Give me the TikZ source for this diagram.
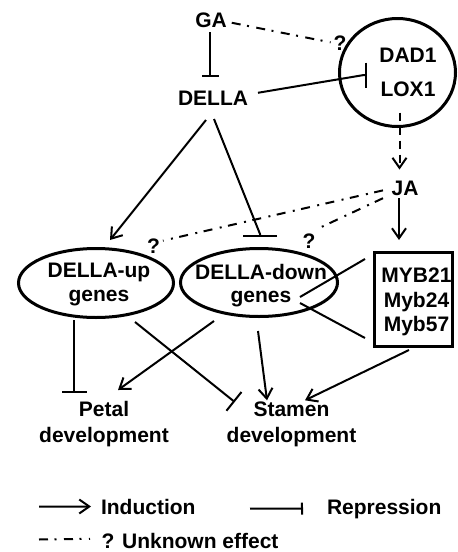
\documentclass[tikz,border=0pt]{standalone}
\usepackage{fontspec}
\setmainfont{Liberation Sans}
\usetikzlibrary{arrows.meta,calc,shapes.geometric}
\begin{document}
\begin{tikzpicture}[x=1pt,y=-1pt,line width=2pt,
  txt/.style={font=\fontsize{21}{24}\selectfont\bfseries,inner sep=0pt,outer sep=0pt,align=center},
  ind/.style={-{Straight Barb[length=10pt,width=14pt]}},
  rep/.style={-{Bar[width=#1]}},
  unk/.style={dash pattern=on 9pt off 6.5pt on 2pt off 7.5pt},
  dsh/.style={dash pattern=on 8pt off 6pt},
  ell/.style={ellipse,draw,line width=3pt,inner sep=0pt,outer sep=0pt},
  boxst/.style={draw,line width=3pt,inner sep=0pt,outer sep=0pt}]
\useasboundingbox (0,0) rectangle (458,552);
% nodes
\node[txt,anchor=base] (ga) at (211,27) {GA};
\node[txt,anchor=base] (della) at (213,105) {DELLA};
\node[ell,minimum width=116pt,minimum height=108pt] (jas) at (397.5,72.5) {};
\node[txt,font=\fontsize{21}{34}\selectfont\bfseries] (dadlox) at (408,72.4) {DAD1\\LOX1};
\node[txt,anchor=base] (ja) at (405,195) {JA};
\node[boxst,minimum width=78pt,minimum height=94pt] (myb) at (413.5,299.5) {};
\node[txt,font=\fontsize{21}{24.5}\selectfont\bfseries] (mybt) at (416.5,302) {MYB21\\Myb24\\Myb57};
\node[ell,minimum width=155pt,minimum height=69pt] (upE) at (96,283) {};
\node[txt] (upT) at (99,284.7) {DELLA-up\\genes};
\node[ell,minimum width=157pt,minimum height=68pt] (downE) at (259,282.5) {};
\node[txt,font=\fontsize{21}{23}\selectfont\bfseries] (downT) at (261,286) {DELLA-down\\genes};
\node[txt,font=\fontsize{21}{26}\selectfont\bfseries] (petal) at (104,424.5) {Petal\\development};
\node[txt,font=\fontsize{21}{26}\selectfont\bfseries] (stamen) at (291.5,424.5) {Stamen\\development};
\node[txt,anchor=base] (q1) at (340,50.7) {?};
\node[txt,anchor=base] (q2) at (153.5,253) {?};
\node[txt,anchor=base] (q3) at (309,248) {?};
% legend
\coordinate (li) at (39,506.5);
\node[txt,anchor=base west] (indt) at (101,514) {Induction};
\coordinate (lr) at (250,508.7);
\node[txt,anchor=base west] (rept) at (327,514) {Repression};
\coordinate (lu) at (39,539.5);
\node[txt,anchor=base west] (unkt) at (101.5,548) {? Unknown effect};
% connectors
\draw[rep=17pt] ($(ga.south)+(-1,5)$) -- ($(della.north)+(-3,-14)$);
\draw[unk] ($(ga.east)+(5,3)$) -- ($(q1.west)+(-3,-1)$);
\draw[rep=25pt] ($(della.east)+(10,-5)$) -- ($(jas.center)+(-33.5,2.5)$) -- ($(jas.center)+(-30.8,2.5)$);
\draw[dsh,ind] ($(jas.center)+(2,40)$) -- ($(ja.north)+(-5.5,-11)$);
\draw[ind] ($(ja.south)+(-6,3)$) -- ($(myb.north)+(-14.5,-12.5)$);
\draw[unk] ($(ja.west)+(-8.6,2.5)$) -- ($(q2.north east)+(3,2.3)$);
\draw[unk] ($(ja.south west)+(-8.6,3)$) -- ($(q3.north east)+(1,-4)$);
\draw[ind] ($(della.south)+(-7,15)$) -- ($(upE.north)+(14,-8.5)$);
\draw[rep=34pt] ($(della.south)+(1,14)$) -- ($(downE.north)+(1,-14.5)$) -- ($(downE.north)+(1,-11.5)$);
\draw ($(myb.north west)+(-9.5,6.5)$) -- ($(downE.center)+(41,14.5)$);
\draw ($(downE.center)+(41,20.5)$) -- ($(myb.south west)+(-9.5,-8.5)$);
\draw[rep=25pt] ($(upE.south)+(-22,2.5)$) -- ($(petal.north)+(-30,-8.7)$);
\draw[rep=24pt] ($(upE.south)+(39,4.5)$) -- ($(stamen.north west)+(8,0)$);
\draw[ind] ($(downE.south)+(-45,4.5)$) -- ($(petal.north)+(14,-11.7)$);
\draw[ind] ($(downE.south)+(-1,14.5)$) -- ($(stamen.north)+(-24.5,-1.7)$);
\draw[ind] ($(myb.south)+(-4.5,3.5)$) -- ($(stamen.north)+(13.5,-1.7)$);
\draw[ind] (li) -- ($(indt.west)+(-10,0)$);
\draw[rep=12pt] (lr) -- ($(rept.west)+(-24,0)$);
\draw[unk] (lu) -- ($(unkt.west)+(-11.5,-1.75)$);
\end{tikzpicture}
\end{document}
